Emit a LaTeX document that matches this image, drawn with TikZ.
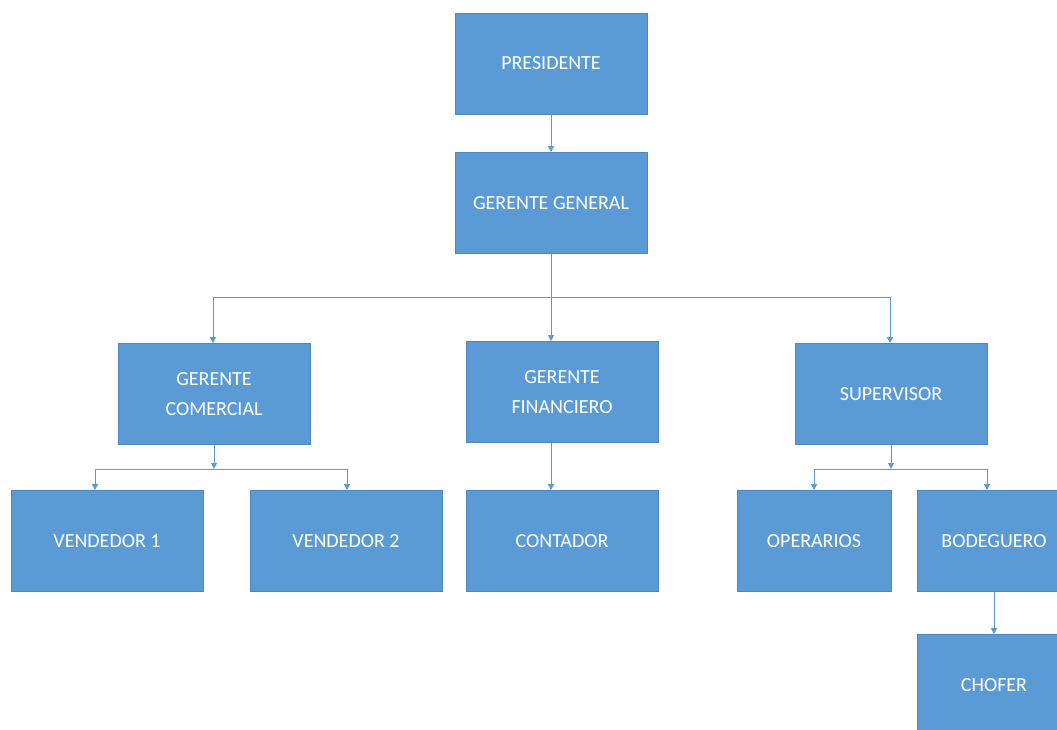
\documentclass[tikz,border=0pt]{standalone}
\usepackage{fontspec}
\setmainfont{Carlito}
\usetikzlibrary{arrows.meta}
\definecolor{azul}{HTML}{5B9BD5}
\definecolor{borde}{HTML}{4F86BF}
\tikzset{
    caja/.style={draw=borde, line width=0.7pt, fill=azul, text=white, align=center,
        minimum width=192pt, minimum height=101pt, inner sep=0pt,
        font=\fontsize{20}{30}\selectfont},
    cajachica/.style={caja, minimum width=154pt},
    linea/.style={draw=azul, line width=1pt},
    flecha/.style={linea, -{Triangle[width=6pt,length=6pt]}}
}
\begin{document}
\begin{tikzpicture}[x=1pt, y=-1pt]
    % 边界
    \useasboundingbox (0,0) rectangle (1057,730);
    \clip (0,0) rectangle (1057,730);

    % 第一层
    \node[caja] (pres) at (551,63.5) {PRESIDENTE};
    \node[caja] (gg) at (551,203) {GERENTE GENERAL};

    % 第二层
    \node[caja] (gc) at (214,394) {GERENTE\\COMERCIAL};
    \node[caja] (gf) at (562,392) {GERENTE\\FINANCIERO};
    \node[caja] (sup) at (891,394) {SUPERVISOR};

    % 第三层
    \node[caja] (v1) at (107,541) {VENDEDOR 1};
    \node[caja] (v2) at (346,541) {VENDEDOR 2};
    \node[caja] (cont) at (562,541) {CONTADOR};
    \node[cajachica] (oper) at (814,541) {OPERARIOS};
    \node[cajachica] (bod) at (994,541) {BODEGUERO};
    \node[cajachica] (chof) at (994,685) {CHOFER};

    % 总线节点
    \coordinate (b1) at (551,297);
    \coordinate (b1l) at (213,297);
    \coordinate (b1r) at (890,297);
    \coordinate (b2) at (214,469);
    \coordinate (b2l) at (95,469);
    \coordinate (b2r) at (347,469);
    \coordinate (b3) at (891,469);
    \coordinate (b3l) at (814,469);
    \coordinate (b3r) at (987,469);

    % 连接线
    \draw[flecha] (pres) -- (gg);
    \draw[flecha] (gg.south) -- (gg.south |- gf.north);
    \draw[linea] (b1l) -- (b1r);
    \draw[flecha] (b1l) -- (b1l |- gc.north);
    \draw[flecha] (b1r) -- (b1r |- sup.north);

    \draw[flecha] (gc.south) -- (b2);
    \draw[linea] (b2l) -- (b2r);
    \draw[flecha] (b2l) -- (b2l |- v1.north);
    \draw[flecha] (b2r) -- (b2r |- v2.north);

    \draw[flecha] (gf.south -| gg.south) -- (gg.south |- cont.north);

    \draw[flecha] (sup.south) -- (b3);
    \draw[linea] (b3l) -- (b3r);
    \draw[flecha] (b3l) -- (b3l |- oper.north);
    \draw[flecha] (b3r) -- (b3r |- bod.north);

    \draw[flecha] (bod.south) -- (chof.north);
\end{tikzpicture}
\end{document}
